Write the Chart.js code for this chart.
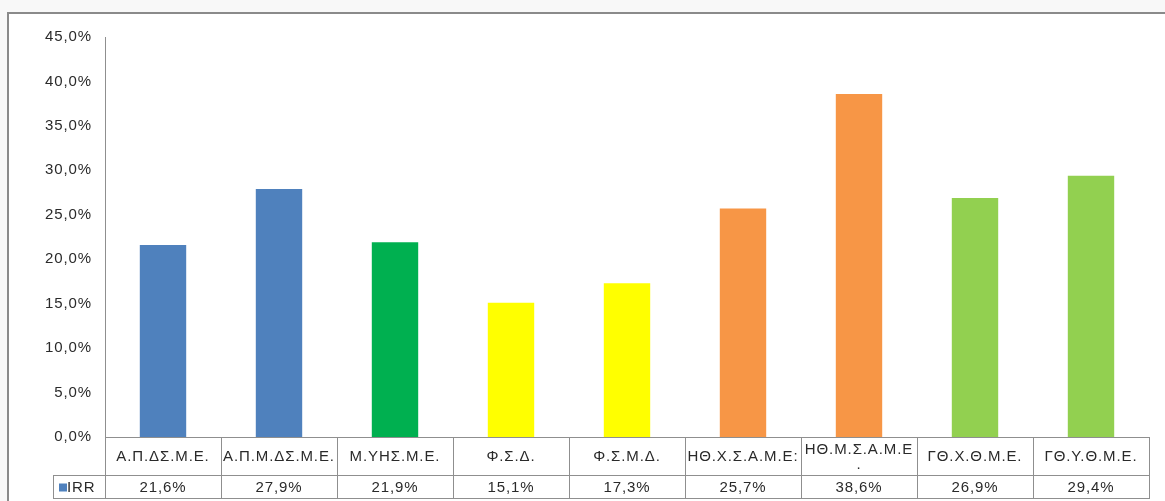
<!DOCTYPE html>
<html>
<head>
<meta charset="utf-8">
<title>IRR</title>
<script src="https://cdn.jsdelivr.net/npm/chart.js@4/dist/chart.umd.min.js"></script>
<style>
  html, body { margin: 0; padding: 0; background: #ffffff; }
  #wrap { position: relative; width: 1165px; height: 501px; }
  canvas { display: block; }
</style>
</head>
<body>
<div id="wrap"><canvas id="chart" width="1165" height="501"></canvas></div>
<script>
// Categories shown along the data table header
const categories = [
  'Α.Π.ΔΣ.Μ.Ε.',
  'Α.Π.Μ.ΔΣ.Μ.Ε.',
  'Μ.ΥΗΣ.Μ.Ε.',
  'Φ.Σ.Δ.',
  'Φ.Σ.Μ.Δ.',
  'ΗΘ.Χ.Σ.Α.Μ.Ε:',
  ['ΗΘ.Μ.Σ.Α.Μ.Ε', '.'],
  'ΓΘ.Χ.Θ.Μ.Ε.',
  'ΓΘ.Υ.Θ.Μ.Ε.'
];

// IRR per scheme, in percent
const irrValues = [21.6, 27.9, 21.9, 15.1, 17.3, 25.7, 38.6, 26.9, 29.4];

// Series name shown in the table's row header
const seriesName = 'IRR';

// Value axis range and step (percent)
const yMin = 0;
const yMax = 45;
const yStep = 5;

const barColors = [
  '#4F81BD', '#4F81BD', '#00B050', '#FFFF00', '#FFFF00',
  '#F79646', '#F79646', '#92D050', '#92D050'
];

const FONT_FAMILY = '"Liberation Sans", Arial, sans-serif';
const TEXT_COLOR = '#2a2a2a';
const LINE_COLOR = '#8f8f8f';
const LETTER_SPACING = '0.9px';

function fmtPct(v) {
  return v.toFixed(1).replace('.', ',') + '%';
}

// Frame around the whole chart and text spacing setup
const framePlugin = {
  id: 'frame',
  beforeDraw(chart) {
    const ctx = chart.ctx;
    const w = chart.width, h = chart.height;
    ctx.save();
    ctx.fillStyle = '#ffffff';
    ctx.fillRect(0, 0, w, h);
    ctx.fillStyle = '#f8f8f8';
    ctx.fillRect(0, 0, w, 12);
    ctx.fillRect(0, 0, 7, h);
    ctx.strokeStyle = '#8a8a8a';
    ctx.lineWidth = 2;
    ctx.beginPath();
    ctx.moveTo(8, h);
    ctx.lineTo(8, 13);
    ctx.lineTo(w, 13);
    ctx.stroke();
    ctx.restore();
    ctx.letterSpacing = LETTER_SPACING;
  }
};

// Data table drawn under the category axis
const dataTablePlugin = {
  id: 'dataTable',
  afterDraw(chart) {
    const ctx = chart.ctx;
    const x = chart.scales.x;
    const area = chart.chartArea;
    const n = categories.length;
    const top = area.bottom;
    const rowSplit = top + 38;
    const bottom = rowSplit + 23;
    const keyLeft = 53;

    const edges = [];
    for (let i = 0; i <= n; i++) {
      if (i === 0) edges.push(area.left);
      else if (i === n) edges.push(area.right);
      else edges.push((x.getPixelForValue(i - 1) + x.getPixelForValue(i)) / 2);
    }

    ctx.save();
    ctx.letterSpacing = LETTER_SPACING;
    ctx.strokeStyle = LINE_COLOR;
    ctx.lineWidth = 1;
    ctx.beginPath();
    ctx.moveTo(area.left, top + 0.5); ctx.lineTo(area.right, top + 0.5);
    ctx.moveTo(keyLeft, rowSplit + 0.5); ctx.lineTo(area.right, rowSplit + 0.5);
    ctx.moveTo(keyLeft, bottom + 0.5); ctx.lineTo(area.right, bottom + 0.5);
    edges.forEach((ex) => {
      const px = Math.round(ex) + 0.5;
      ctx.moveTo(px, top); ctx.lineTo(px, bottom + 1);
    });
    ctx.moveTo(keyLeft + 0.5, rowSplit); ctx.lineTo(keyLeft + 0.5, bottom + 1);
    ctx.stroke();

    ctx.fillStyle = TEXT_COLOR;
    ctx.font = '15px ' + FONT_FAMILY;
    ctx.textAlign = 'center';
    ctx.textBaseline = 'middle';
    const headerMid = (top + rowSplit) / 2 + 0.5;
    const valueMid = (rowSplit + bottom) / 2 + 1;
    categories.forEach((label, i) => {
      const cx = x.getPixelForValue(i);
      if (Array.isArray(label)) {
        ctx.fillText(label[0], cx, top + 13);
        ctx.fillText(label[1], cx, top + 28);
      } else {
        ctx.fillText(label, cx, headerMid);
      }
      ctx.fillText(fmtPct(irrValues[i]), cx, valueMid);
    });

    // row header with legend key
    ctx.fillStyle = barColors[0];
    ctx.fillRect(59, valueMid - 4, 8, 8);
    ctx.fillStyle = TEXT_COLOR;
    ctx.textAlign = 'left';
    ctx.fillText(seriesName, 67, valueMid);
    ctx.restore();
  }
};

new Chart(document.getElementById('chart'), {
  type: 'bar',
  data: {
    labels: categories,
    datasets: [{
      label: seriesName,
      data: irrValues,
      backgroundColor: barColors,
      borderWidth: 0,
      barPercentage: 0.8,
      categoryPercentage: 0.5
    }]
  },
  options: {
    responsive: false,
    animation: false,
    devicePixelRatio: 1,
    layout: { padding: { top: 37, bottom: 64, left: 0, right: 16 } },
    plugins: {
      legend: { display: false },
      tooltip: { enabled: false }
    },
    scales: {
      x: {
        display: false
      },
      y: {
        min: yMin,
        max: yMax,
        afterFit(scale) { scale.width = 105; },
        grid: { display: false, drawTicks: false },
        border: { display: true, color: LINE_COLOR, width: 1 },
        ticks: {
          stepSize: yStep,
          padding: 13,
          color: TEXT_COLOR,
          font: { family: FONT_FAMILY, size: 15 },
          callback: (v) => fmtPct(v)
        }
      }
    }
  },
  plugins: [framePlugin, dataTablePlugin]
});
</script>
</body>
</html>
